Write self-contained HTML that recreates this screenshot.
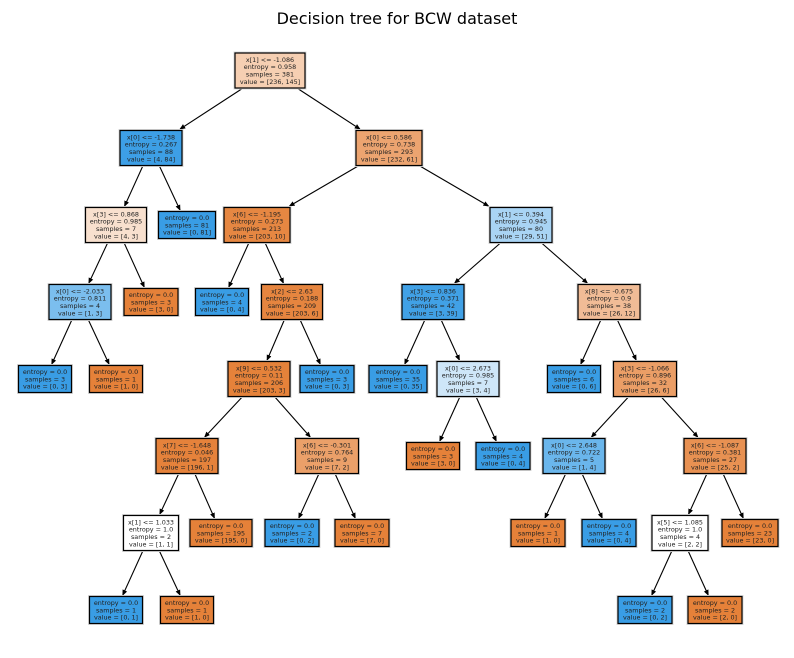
<!DOCTYPE html>
<html><head><meta charset="utf-8"><style>
html,body{margin:0;padding:0;background:#fff;}
svg{display:block;}
text{font-family:"DejaVu Sans","Liberation Sans",sans-serif;}
</style></head><body>
<svg id="s" width="794" height="658" viewBox="0 0 794 658" xmlns="http://www.w3.org/2000/svg">
<defs><marker id="a" markerWidth="6" markerHeight="6" refX="5" refY="3" orient="auto" markerUnits="userSpaceOnUse"><path d="M0,0.5 L6,3 L0,5.5 z" fill="#000"/></marker></defs>
<text x="397" y="24" font-size="16" text-anchor="middle" fill="#000">Decision tree for BCW dataset</text>
</svg>
<script>
var Y=[70.5,148,225,302,379,456,533,610];
var N=[
[0,0,270,70,"#f6cfb2",["x[1] <= -1.086","entropy = 0.958","samples = 381","value = [236, 145]"],-1],
[1,1,151,62,"#3d9fe6",["x[0] <= -1.738","entropy = 0.267","samples = 88","value = [4, 84]"],0],
[2,1,389,66,"#eca470",["x[0] <= 0.586","entropy = 0.738","samples = 293","value = [232, 61]"],0],
[3,2,116,61,"#f8e0ce",["x[3] <= 0.868","entropy = 0.985","samples = 7","value = [4, 3]"],1],
[4,2,187,57,"#399de5",["entropy = 0.0","samples = 81","value = [0, 81]"],1],
[5,2,257,66,"#e68742",["x[6] <= -1.195","entropy = 0.273","samples = 213","value = [203, 10]"],2],
[6,2,521,62,"#a9d4f4",["x[1] <= 0.394","entropy = 0.945","samples = 80","value = [29, 51]"],2],
[7,3,80,62,"#7bbeee",["x[0] <= -2.033","entropy = 0.811","samples = 4","value = [1, 3]"],3],
[8,3,151,54,"#e58139",["entropy = 0.0","samples = 3","value = [3, 0]"],3],
[9,3,222,53,"#399de5",["entropy = 0.0","samples = 4","value = [0, 4]"],5],
[10,3,292,61,"#e6853f",["x[2] <= 2.63","entropy = 0.188","samples = 209","value = [203, 6]"],5],
[11,3,433,62,"#41a1e6",["x[3] <= 0.836","entropy = 0.371","samples = 42","value = [3, 39]"],6],
[12,3,609,62,"#f1bc96",["x[8] <= -0.675","entropy = 0.9","samples = 38","value = [26, 12]"],6],
[13,4,45,53,"#399de5",["entropy = 0.0","samples = 3","value = [0, 3]"],7],
[14,4,116,53,"#e58139",["entropy = 0.0","samples = 1","value = [1, 0]"],7],
[15,4,259,62,"#e5823a",["x[9] <= 0.532","entropy = 0.11","samples = 206","value = [203, 3]"],10],
[16,4,327,54,"#399de5",["entropy = 0.0","samples = 3","value = [0, 3]"],10],
[17,4,398,58,"#399de5",["entropy = 0.0","samples = 35","value = [0, 35]"],11],
[18,4,468,62,"#cee6f8",["x[0] <= 2.673","entropy = 0.985","samples = 7","value = [3, 4]"],11],
[19,4,574,53,"#399de5",["entropy = 0.0","samples = 6","value = [0, 6]"],12],
[20,4,645,63,"#eb9e66",["x[3] <= -1.066","entropy = 0.896","samples = 32","value = [26, 6]"],12],
[21,5,187,62,"#e5823b",["x[7] <= -1.648","entropy = 0.046","samples = 197","value = [196, 1]"],15],
[22,5,327,63,"#eba069",["x[6] <= -0.301","entropy = 0.764","samples = 9","value = [7, 2]"],15],
[23,5,433,53,"#e58139",["entropy = 0.0","samples = 3","value = [3, 0]"],18],
[24,5,503,54,"#399de5",["entropy = 0.0","samples = 4","value = [0, 4]"],18],
[25,5,574,62,"#6ab6ec",["x[0] <= 2.648","entropy = 0.722","samples = 5","value = [1, 4]"],20],
[26,5,715,62,"#e89152",["x[6] <= -1.087","entropy = 0.381","samples = 27","value = [25, 2]"],20],
[27,6,151,55,"#ffffff",["x[1] <= 1.033","entropy = 1.0","samples = 2","value = [1, 1]"],21],
[28,6,221,62,"#e58139",["entropy = 0.0","samples = 195","value = [195, 0]"],21],
[29,6,292,54,"#399de5",["entropy = 0.0","samples = 2","value = [0, 2]"],22],
[30,6,362,54,"#e58139",["entropy = 0.0","samples = 7","value = [7, 0]"],22],
[31,6,538,54,"#e58139",["entropy = 0.0","samples = 1","value = [1, 0]"],25],
[32,6,609,54,"#399de5",["entropy = 0.0","samples = 4","value = [0, 4]"],25],
[33,6,680,56,"#ffffff",["x[5] <= 1.085","entropy = 1.0","samples = 4","value = [2, 2]"],26],
[34,6,750,56,"#e58139",["entropy = 0.0","samples = 23","value = [23, 0]"],26],
[35,7,116,53,"#399de5",["entropy = 0.0","samples = 1","value = [0, 1]"],27],
[36,7,187,53,"#e58139",["entropy = 0.0","samples = 1","value = [1, 0]"],27],
[37,7,645,54,"#399de5",["entropy = 0.0","samples = 2","value = [0, 2]"],33],
[38,7,715,54,"#e58139",["entropy = 0.0","samples = 2","value = [2, 0]"],33]
];
var s=document.getElementById("s"),NS="http://www.w3.org/2000/svg";
function el(t,a){var e=document.createElementNS(NS,t);for(var k in a)e.setAttribute(k,a[k]);s.appendChild(e);return e;}
function box(n){var h=n[5].length==4?35:27;var cy=Y[n[1]];return {x0:n[2]-n[3]/2,cx:n[2],cy:cy,h:h,top:cy-h/2,bot:cy+h/2};}
for(var i=0;i<N.length;i++){var n=N[i];if(n[6]<0)continue;
 var p=box(N[n[6]]),c=box(n);
 var dx=c.cx-p.cx,dy=c.cy-p.cy,k=dx/dy;
 var ys=p.bot+0.5,ye=c.top-1.5;
 el("line",{x1:p.cx+k*(ys-p.cy),y1:ys,x2:p.cx+k*(ye-p.cy),y2:ye,stroke:"#000","stroke-width":1.1,"marker-end":"url(#a)"});
}
for(var i=0;i<N.length;i++){var n=N[i],b=box(n);
 el("rect",{x:b.x0-1,y:b.top-1,width:n[3]+2,height:b.h+2,fill:"none",stroke:"#d8d8d8","stroke-width":1});
 el("rect",{x:b.x0,y:b.top,width:n[3],height:b.h,fill:n[4],stroke:"#000","stroke-width":1.2});
 var L=n[5],lh=7.3,st=b.cy-(L.length-1)*lh/2+2.3;
 for(var j=0;j<L.length;j++){var e=el("text",{x:b.cx,y:st+j*lh,"font-size":6.4,"text-anchor":"middle",fill:"#222"});e.textContent=L[j];}
}
</script>
</body></html>
